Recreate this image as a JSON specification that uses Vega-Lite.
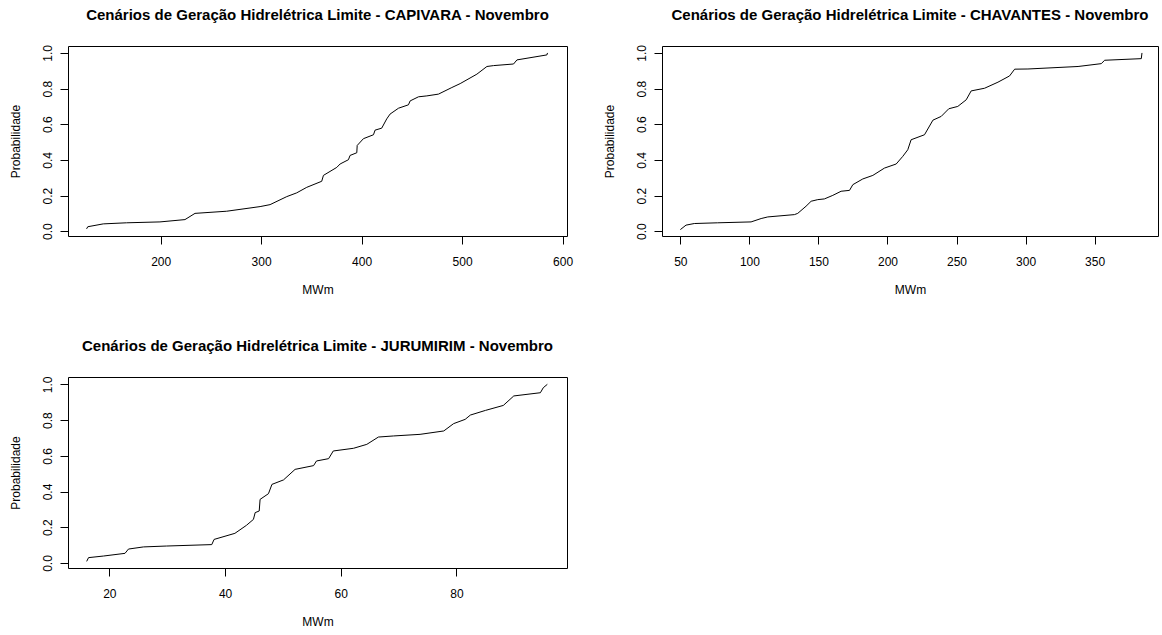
{
  "$schema": "https://vega.github.io/schema/vega-lite/v6.json",
  "background": "white",
  "padding": {"left": 8, "top": 7, "right": 0, "bottom": 0},
  "datasets": {
    "capivara": [
      {"mwm": 126.3, "p": 0.013}, {"mwm": 127.5, "p": 0.025}, {"mwm": 142.9, "p": 0.041}, {"mwm": 166, "p": 0.047},
      {"mwm": 199.3, "p": 0.052}, {"mwm": 224.2, "p": 0.065}, {"mwm": 234.2, "p": 0.1}, {"mwm": 265.7, "p": 0.112},
      {"mwm": 299, "p": 0.138}, {"mwm": 308.9, "p": 0.149}, {"mwm": 325.5, "p": 0.194}, {"mwm": 335.4, "p": 0.215},
      {"mwm": 345.4, "p": 0.246}, {"mwm": 360.3, "p": 0.28}, {"mwm": 362, "p": 0.313}, {"mwm": 375.3, "p": 0.358},
      {"mwm": 378.6, "p": 0.377}, {"mwm": 386.9, "p": 0.401}, {"mwm": 388.5, "p": 0.425}, {"mwm": 395.2, "p": 0.44},
      {"mwm": 395.6, "p": 0.481}, {"mwm": 401.8, "p": 0.519}, {"mwm": 411.8, "p": 0.541}, {"mwm": 413.4, "p": 0.567},
      {"mwm": 420, "p": 0.578}, {"mwm": 425, "p": 0.63}, {"mwm": 428.3, "p": 0.657}, {"mwm": 436.7, "p": 0.69},
      {"mwm": 446.6, "p": 0.709}, {"mwm": 448.3, "p": 0.731}, {"mwm": 456.6, "p": 0.754}, {"mwm": 464.9, "p": 0.759},
      {"mwm": 476.5, "p": 0.769}, {"mwm": 489.8, "p": 0.806}, {"mwm": 498.1, "p": 0.828}, {"mwm": 514.7, "p": 0.881},
      {"mwm": 524.7, "p": 0.924}, {"mwm": 531.3, "p": 0.929}, {"mwm": 551.2, "p": 0.938}, {"mwm": 554.6, "p": 0.961},
      {"mwm": 584.4, "p": 0.989}, {"mwm": 585, "p": 1.0}
    ],
    "chavantes": [
      {"mwm": 50, "p": 0.009}, {"mwm": 54.1, "p": 0.034}, {"mwm": 60.1, "p": 0.043}, {"mwm": 77, "p": 0.047},
      {"mwm": 101.2, "p": 0.052}, {"mwm": 108.5, "p": 0.071}, {"mwm": 113.3, "p": 0.08}, {"mwm": 132.6, "p": 0.093},
      {"mwm": 135, "p": 0.1}, {"mwm": 141, "p": 0.14}, {"mwm": 144.7, "p": 0.168}, {"mwm": 149.5, "p": 0.177},
      {"mwm": 154.3, "p": 0.181}, {"mwm": 160.4, "p": 0.201}, {"mwm": 166.4, "p": 0.224}, {"mwm": 172.5, "p": 0.229},
      {"mwm": 174.9, "p": 0.261}, {"mwm": 182.1, "p": 0.293}, {"mwm": 189.4, "p": 0.313}, {"mwm": 197.8, "p": 0.354},
      {"mwm": 206.3, "p": 0.377}, {"mwm": 211.1, "p": 0.42}, {"mwm": 214.7, "p": 0.457}, {"mwm": 217.1, "p": 0.513},
      {"mwm": 226.8, "p": 0.541}, {"mwm": 232.9, "p": 0.623}, {"mwm": 238.9, "p": 0.644}, {"mwm": 244.4, "p": 0.687},
      {"mwm": 250.9, "p": 0.7}, {"mwm": 257, "p": 0.737}, {"mwm": 260.6, "p": 0.787}, {"mwm": 270.3, "p": 0.802},
      {"mwm": 280, "p": 0.836}, {"mwm": 288.4, "p": 0.871}, {"mwm": 292.1, "p": 0.909}, {"mwm": 301.7, "p": 0.91},
      {"mwm": 338, "p": 0.924}, {"mwm": 354.8, "p": 0.94}, {"mwm": 357.3, "p": 0.959}, {"mwm": 383.8, "p": 0.968},
      {"mwm": 384.3, "p": 1.0}
    ],
    "jurumirim": [
      {"mwm": 16.08, "p": 0.009}, {"mwm": 16.4, "p": 0.03}, {"mwm": 19, "p": 0.039}, {"mwm": 22.7, "p": 0.054},
      {"mwm": 23.3, "p": 0.078}, {"mwm": 25.9, "p": 0.09}, {"mwm": 29.9, "p": 0.095}, {"mwm": 37.7, "p": 0.103},
      {"mwm": 38.1, "p": 0.132}, {"mwm": 41.7, "p": 0.166}, {"mwm": 43.7, "p": 0.211}, {"mwm": 44.9, "p": 0.244},
      {"mwm": 45.2, "p": 0.282}, {"mwm": 45.9, "p": 0.291}, {"mwm": 46.05, "p": 0.356}, {"mwm": 47.5, "p": 0.388},
      {"mwm": 48.1, "p": 0.44}, {"mwm": 50.1, "p": 0.465}, {"mwm": 52.1, "p": 0.524}, {"mwm": 55.3, "p": 0.545},
      {"mwm": 55.8, "p": 0.571}, {"mwm": 57.9, "p": 0.584}, {"mwm": 58.7, "p": 0.627}, {"mwm": 62.2, "p": 0.642},
      {"mwm": 64.5, "p": 0.664}, {"mwm": 66.5, "p": 0.705}, {"mwm": 69.1, "p": 0.711}, {"mwm": 73.7, "p": 0.72},
      {"mwm": 77.8, "p": 0.739}, {"mwm": 79.5, "p": 0.78}, {"mwm": 81.5, "p": 0.804}, {"mwm": 82.4, "p": 0.828},
      {"mwm": 85, "p": 0.854}, {"mwm": 88.1, "p": 0.882}, {"mwm": 89.9, "p": 0.935}, {"mwm": 94.5, "p": 0.953},
      {"mwm": 95, "p": 0.981}, {"mwm": 95.7, "p": 1.0}
    ]
  },
  "columns": 2,
  "spacing": {"column": 95, "row": 141},
  "bounds": "flush",
  "concat": [
    {
      "data": {"name": "capivara"},
      "width": 499, "height": 190,
      "title": "Cenários de Geração Hidrelétrica Limite - CAPIVARA - Novembro",
      "mark": {"type": "line", "color": "black", "strokeWidth": 1},
      "encoding": {
        "x": {"field": "mwm", "type": "quantitative", "title": "MWm",
              "scale": {"domain": [107.8, 604.4], "nice": false, "zero": false},
              "axis": {"values": [200, 300, 400, 500, 600]}},
        "y": {"field": "p", "type": "quantitative", "title": "Probabilidade",
              "scale": {"domain": [-0.027, 1.039], "nice": false, "zero": false},
              "axis": {"values": [0, 0.2, 0.4, 0.6, 0.8, 1.0], "format": ".1f"}}
      }
    },
    {
      "data": {"name": "chavantes"},
      "width": 496, "height": 190,
      "title": "Cenários de Geração Hidrelétrica Limite - CHAVANTES - Novembro",
      "mark": {"type": "line", "color": "black", "strokeWidth": 1},
      "encoding": {
        "x": {"field": "mwm", "type": "quantitative", "title": "MWm",
              "scale": {"domain": [36.7, 395.9], "nice": false, "zero": false},
              "axis": {"values": [50, 100, 150, 200, 250, 300, 350]}},
        "y": {"field": "p", "type": "quantitative", "title": "Probabilidade",
              "scale": {"domain": [-0.027, 1.039], "nice": false, "zero": false},
              "axis": {"values": [0, 0.2, 0.4, 0.6, 0.8, 1.0], "format": ".1f"}}
      }
    },
    {
      "data": {"name": "jurumirim"},
      "width": 499, "height": 191,
      "title": "Cenários de Geração Hidrelétrica Limite - JURUMIRIM - Novembro",
      "mark": {"type": "line", "color": "black", "strokeWidth": 1},
      "encoding": {
        "x": {"field": "mwm", "type": "quantitative", "title": "MWm",
              "scale": {"domain": [12.85, 99.1], "nice": false, "zero": false},
              "axis": {"values": [20, 40, 60, 80]}},
        "y": {"field": "p", "type": "quantitative", "title": "Probabilidade",
              "scale": {"domain": [-0.028, 1.041], "nice": false, "zero": false},
              "axis": {"values": [0, 0.2, 0.4, 0.6, 0.8, 1.0], "format": ".1f"}}
      }
    }
  ],
  "config": {
    "font": "Liberation Sans",
    "view": {"stroke": "black", "strokeWidth": 1},
    "title": {"font": "Liberation Sans", "fontSize": 15, "fontWeight": "bold", "color": "black", "anchor": "middle", "offset": 22},
    "axis": {
      "domain": false, "grid": false,
      "tickColor": "black", "tickSize": 8, "tickWidth": 1,
      "labelFont": "Liberation Sans", "labelFontSize": 12, "labelColor": "black",
      "titleFont": "Liberation Sans", "titleFontSize": 12, "titleFontWeight": "normal", "titleColor": "black"
    },
    "axisX": {"labelPadding": 12, "titlePadding": 17},
    "axisY": {"labelAngle": 270, "labelAlign": "center", "labelBaseline": "bottom", "labelPadding": 6, "titlePadding": 19}
  }
}
